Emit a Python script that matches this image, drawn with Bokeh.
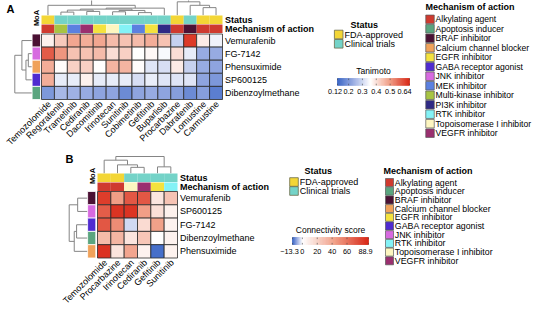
import numpy as np
from bokeh.plotting import figure
from bokeh.models import Range1d, ColumnDataSource, LinearColorMapper
from bokeh.core.properties import value
from bokeh.embed import file_html
from bokeh.resources import INLINE

# ---------------- data ----------------
moa_names = ["Alkylating agent", "Apoptosis inducer", "BRAF inhibitor", "Calcium channel blocker",
             "EGFR inhibitor", "GABA receptor agonist", "JNK inhibitor", "MEK inhibitor",
             "Multi-kinase inhibitor", "PI3K inhibitor", "RTK inhibitor",
             "Topoisomerase I inhibitor", "VEGFR inhibitor"]
moa_colors = ["#cf3a2f", "#5aa57f", "#4b1134", "#f0a25a", "#f4e23e", "#4f2bd0", "#d76ae0",
              "#5b80e0", "#a8c443", "#2f2a85", "#84f2f6", "#fdf6c0", "#9a2f6f"]
status_names = ["FDA-approved", "Clinical trials"]
status_colors = ["#f3d636", "#74d3c8"]

a_cols = ["Temozolomide", "Regorafenib", "Trametinib", "Cediranib", "Dacomitinib", "Irinotecan",
          "Sunitinib", "Cobimetinib", "Gefitinib", "Buparlisib", "Procarbazine", "Dabrafenib",
          "Lomustine", "Carmustine"]
a_col_status = ["FDA-approved"] + ["Clinical trials"] * 9 + ["FDA-approved", "Clinical trials",
                                                             "FDA-approved", "FDA-approved"]
a_col_moa = ["Alkylating agent", "Multi-kinase inhibitor", "MEK inhibitor", "VEGFR inhibitor",
             "EGFR inhibitor", "Topoisomerase I inhibitor", "RTK inhibitor", "MEK inhibitor",
             "EGFR inhibitor", "PI3K inhibitor", "Alkylating agent", "BRAF inhibitor",
             "Alkylating agent", "Alkylating agent"]
a_rows = ["Vemurafenib", "FG-7142", "Phensuximide", "SP600125", "Dibenzoylmethane"]
a_row_moa = ["BRAF inhibitor", "JNK inhibitor", "Calcium channel blocker",
             "GABA receptor agonist", "Apoptosis inducer"]
a_tanimoto = [
    [0.38, 0.44, 0.49, 0.48, 0.49, 0.46, 0.45, 0.46, 0.48, 0.45, 0.29, 0.62, 0.39, 0.34],
    [0.58, 0.51, 0.45, 0.45, 0.46, 0.41, 0.43, 0.36, 0.37, 0.35, 0.41, 0.33, 0.23, 0.23],
    [0.48, 0.365, 0.43, 0.43, 0.36, 0.47, 0.47, 0.365, 0.32, 0.31, 0.39, 0.29, 0.23, 0.22],
    [0.48, 0.33, 0.33, 0.38, 0.33, 0.33, 0.33, 0.31, 0.335, 0.32, 0.32, 0.32, 0.22, 0.20],
    [0.20, 0.25, 0.24, 0.23, 0.22, 0.22, 0.18, 0.22, 0.23, 0.22, 0.21, 0.18, 0.21, 0.16],
]
a_range = (0.12, 0.64)
a_ticks = [0.12, 0.2, 0.3, 0.4, 0.5, 0.64]
a_tick_labels = ["0.12", "0.2", "0.3", "0.4", "0.5", "0.64"]
# linkage: (child_a, child_b, relative height); leaves 0..n-1, merges n, n+1, ...
a_col_linkage = [(1, 2, 0.18), (3, 4, 0.22), (14, 15, 0.30), (5, 6, 0.20), (7, 8, 0.15),
                 (17, 18, 0.28), (16, 19, 0.36), (20, 9, 0.42), (0, 21, 0.59),
                 (12, 13, 0.45), (11, 23, 0.59), (10, 24, 0.80), (22, 25, 1.00)]
a_row_linkage = [(1, 2, 0.20), (5, 3, 0.34), (0, 6, 0.58), (7, 4, 1.00)]

b_cols = ["Temozolomide", "Procarbazine", "Irinotecan", "Cediranib", "Gefitinib", "Sunitinib"]
b_col_status = ["FDA-approved", "FDA-approved", "Clinical trials", "Clinical trials",
                "Clinical trials", "Clinical trials"]
b_col_moa = ["Alkylating agent", "Alkylating agent", "Topoisomerase I inhibitor",
             "VEGFR inhibitor", "EGFR inhibitor", "RTK inhibitor"]
b_rows = ["Vemurafenib", "SP600125", "FG-7142", "Dibenzoylmethane", "Phensuximide"]
b_row_moa = ["BRAF inhibitor", "JNK inhibitor", "GABA receptor agonist", "Apoptosis inducer",
             "Calcium channel blocker"]
b_score = [
    [82, 45, 72, 72, 12, 28],
    [70, 85, 85, 45, 15, 7],
    [72, 52, -3, 17, 44, 6],
    [32, 35, 13, 27, 0.5, 6],
    [86, 13, 42, 6, -12.5, 6],
]
b_range = (-13.3, 88.9)
b_ticks = [-13.3, 0, 20, 40, 60, 88.9]
b_tick_labels = ["\u221213.3", "0", "20", "40", "60", "88.9"]
b_col_linkage = [(2, 3, 0.35), (1, 6, 0.50), (0, 7, 0.78), (4, 5, 0.38), (8, 9, 1.00)]
b_row_linkage = [(0, 1, 0.53), (2, 3, 0.59), (6, 4, 0.72), (5, 7, 1.00)]
b_moa_legend = ["Alkylating agent", "Apoptosis inducer", "BRAF inhibitor",
                "Calcium channel blocker", "EGFR inhibitor", "GABA receptor agonist",
                "JNK inhibitor", "RTK inhibitor", "Topoisomerase I inhibitor", "VEGFR inhibitor"]

# ---------------- style ----------------
FONT = "Liberation Sans"
DENDRO = "#858585"


def make_palette(stops, n=256):
    def rgb(h):
        return np.array([int(h[i:i + 2], 16) for i in (1, 3, 5)], float)
    out = []
    for i in range(n):
        t = i / (n - 1)
        for (t0, c0), (t1, c1) in zip(stops[:-1], stops[1:]):
            if t0 <= t <= t1:
                f = (t - t0) / (t1 - t0) if t1 > t0 else 0
                c = rgb(c0) * (1 - f) + rgb(c1) * f
                out.append("#%02x%02x%02x" % tuple(int(round(v)) for v in c))
                break
    return out


def diverging(mid):
    # blue -> white -> red, with mid-tones close to a Lab-space ramp
    return make_palette([(0, "#3a66c6"), (mid / 2, "#9fb1e4"), (mid, "#ffffff"),
                         (mid + (1 - mid) / 2, "#f1a088"), (1, "#d92b1a")])


mid_a = (0.36 - a_range[0]) / (a_range[1] - a_range[0])
mid_b = (0 - b_range[0]) / (b_range[1] - b_range[0])
map_a = LinearColorMapper(palette=diverging(mid_a), low=a_range[0], high=a_range[1])
map_b = LinearColorMapper(palette=diverging(mid_b), low=b_range[0], high=b_range[1])

W, H = 534, 305
p = figure(width=W, height=H, x_range=Range1d(8, 8 + W), y_range=Range1d(8 + H, 8),
           output_backend="svg", toolbar_location=None, min_border=0)
p.axis.visible = False
p.grid.visible = False
p.outline_line_color = None
p.background_fill_color = "white"


def txt(x, y, t, size="9px", align="left", baseline="middle", bold=False, angle=0.0, color="black"):
    p.text(x=x, y=y, text=t, text_font=value(FONT), text_font_size=size, text_align=align,
           text_baseline=baseline, text_font_style="bold" if bold else "normal", angle=angle,
           text_color=color)


def moa_color(m):
    return moa_colors[moa_names.index(m)]


def st_color(s):
    return status_colors[status_names.index(s)]


def dendro(linkage, leaf_pos):
    pos = list(leaf_pos)
    hts = [0.0] * len(leaf_pos)
    ps, hs = [], []
    for a, b, h in linkage:
        ps.append([pos[a], pos[a], pos[b], pos[b]])
        hs.append([hts[a], h, h, hts[b]])
        pos.append((pos[a] + pos[b]) / 2)
        hts.append(h)
    return ps, hs


def panel(rows, cols, vals, mapper, col_status, col_moa, row_moa, col_link, row_link, g):
    x0, y0, cw, rh = g["x0"], g["y0"], g["cw"], g["rh"]
    nr, nc = len(rows), len(cols)
    cx = [x0 + cw * (j + 0.5) for j in range(nc)]
    ry = [y0 + rh * (i + 0.5) for i in range(nr)]
    xs, ys, vv = [], [], []
    for i in range(nr):
        for j in range(nc):
            xs.append(cx[j]); ys.append(ry[i]); vv.append(vals[i][j])
    src = ColumnDataSource(dict(x=xs, y=ys, v=vv))
    p.rect(x="x", y="y", width=cw, height=rh, source=src,
           fill_color={"field": "v", "transform": mapper}, line_color="#2a2a2a", line_width=0.8)
    # column annotations
    p.rect(x=cx, y=[g["st_y"]] * nc, width=cw, height=g["bar_h"],
           fill_color=[st_color(s) for s in col_status], line_color=None)
    p.rect(x=cx, y=[g["mo_y"]] * nc, width=cw, height=g["bar_h"],
           fill_color=[moa_color(m) for m in col_moa], line_color=None)
    # row annotation
    p.rect(x=[g["rb_x"]] * nr, y=ry, width=g["bar_w"], height=rh,
           fill_color=[moa_color(m) for m in row_moa], line_color="white", line_width=0.8)
    # dendrograms
    ps, hs = dendro(col_link, cx)
    p.multi_line(xs=ps, ys=[[g["cd_leaf"] - h * g["cd_span"] for h in hh] for hh in hs],
                 line_color=DENDRO, line_width=1)
    ps, hs = dendro(row_link, ry)
    p.multi_line(xs=[[g["rd_leaf"] - h * g["rd_span"] for h in hh] for hh in hs], ys=ps,
                 line_color=DENDRO, line_width=1)
    # texts
    lx = x0 + cw * nc + 2.5
    txt(lx, ry, rows)
    txt([lx], [g["st_y"]], ["Status"], bold=True)
    txt([lx], [g["mo_y"]], ["Mechanism of action"], bold=True)
    txt([c + g["lab_dx"] for c in cx], [y0 + rh * nr + g["lab_dy"]] * nc, cols,
        align="right", angle=np.pi / 4)
    txt([g["rb_x"] + 0.5], [g["moa_lab_y"]], ["MoA"], size="7.5px", bold=True,
        angle=np.pi / 2, align="center")


geo_a = dict(x0=49, y0=41.5, cw=181 / 14, rh=13.1, st_y=27.2, mo_y=36.3, bar_h=8.4,
             rb_x=43.8, bar_w=8.4, cd_leaf=22.6, cd_span=16.6, rd_leaf=39.2, rd_span=16.9,
             lab_dx=1.5, lab_dy=3.0, moa_lab_y=25.5)
geo_b = dict(x0=105, y0=199, cw=80 / 6, rh=13.3, st_y=185.3, mo_y=194.2, bar_h=8.4,
             rb_x=99.2, bar_w=8.2, cd_leaf=180.7, cd_span=16.7, rd_leaf=94.7, rd_span=18.0,
             lab_dx=1.5, lab_dy=3.0, moa_lab_y=183.5)

panel(a_rows, a_cols, a_tanimoto, map_a, a_col_status, a_col_moa, a_row_moa,
      a_col_linkage, a_row_linkage, geo_a)
panel(b_rows, b_cols, b_score, map_b, b_col_status, b_col_moa, b_row_moa,
      b_col_linkage, b_row_linkage, geo_b)

txt([14], [16], ["A"], size="11px", bold=True)
txt([73], [166], ["B"], size="11px", bold=True)


def status_legend(tx, ty, sx, sy0, step, size):
    txt([tx], [ty], ["Status"], bold=True)
    ys = [sy0 + step * k for k in range(len(status_names))]
    p.rect(x=[sx] * len(ys), y=ys, width=size, height=size, fill_color=status_colors,
           line_color="#6b6b4a", line_width=0.8)
    txt([sx + size / 2 + 1.5] * len(ys), ys, status_names)


def moa_legend(names, tx, ty, sx, sy0, step, size, fs):
    txt([tx], [ty], ["Mechanism of action"], bold=True)
    ys = [sy0 + step * k for k in range(len(names))]
    p.rect(x=[sx] * len(ys), y=ys, width=size, height=size,
           fill_color=[moa_color(m) for m in names], line_color="#5a5a5a", line_width=0.7)
    txt([sx + size / 2 + 1.3] * len(ys), ys, names, size=fs)


def colorbar(mapper, lo, hi, ticks, labels, title, bx, by, bw, bh, end_shift):
    n = 150
    vals = np.linspace(lo, hi, n)
    step = bw / n
    src = ColumnDataSource(dict(x=[bx + step * (k + 0.5) for k in range(n)], v=vals))
    p.rect(x="x", y=by + bh / 2, width=step, height=bh, source=src,
           fill_color={"field": "v", "transform": mapper},
           line_color={"field": "v", "transform": mapper}, line_width=0.6)
    tx = [bx + (t - lo) / (hi - lo) * bw for t in ticks]
    p.segment(x0=tx, y0=[by] * len(tx), x1=tx, y1=[by + 1.6] * len(tx), line_color="#444444",
              line_width=0.6)
    p.segment(x0=tx, y0=[by + bh] * len(tx), x1=tx, y1=[by + bh - 1.6] * len(tx),
              line_color="#444444", line_width=0.6)
    # end labels nudged inwards/leftwards so neighbouring labels do not collide
    lx = list(tx)
    lx[0] += end_shift[0]
    lx[-1] += end_shift[1]
    txt(lx, [by + bh + 6.5] * len(tx), labels, size="7.3px", align="center")
    txt([bx + bw / 2], [by - 8], [title], size="8.5px", align="center")


status_legend(358, 32, 346.2, 42, 9.3, 8.6)
moa_legend(moa_names, 433, 14.5, 437.5, 26.8, 9.49, 8.5, "8.6px")
colorbar(map_a, a_range[0], a_range[1], a_ticks, a_tick_labels, "Tanimoto", 345, 86, 72, 6.8,
         (-2.5, -5.0))

status_legend(312, 178, 301.5, 189.5, 9.0, 8.6)
moa_legend(b_moa_legend, 391, 178, 397, 190, 8.7, 8.0, "8.8px")
colorbar(map_b, b_range[0], b_range[1], b_ticks, b_tick_labels, "Connectivity score",
         300, 245, 76, 7, (-3.0, -3.0))

open("out.html", "w").write(file_html(p, INLINE))
